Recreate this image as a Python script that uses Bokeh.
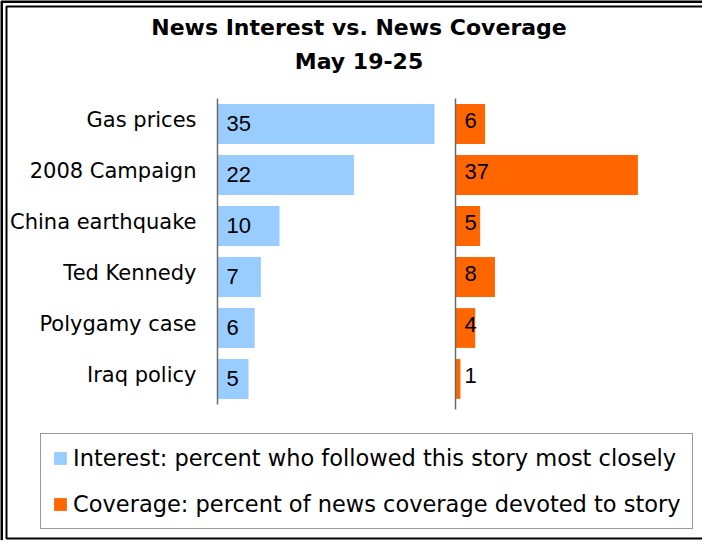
from bokeh.plotting import figure
from bokeh.models import Range1d, Legend, LegendItem, ColumnDataSource
from bokeh.core.properties import value
from bokeh.embed import file_html
from bokeh.resources import INLINE

# ---------------- data ----------------
categories = ["Gas prices", "2008 Campaign", "China earthquake",
              "Ted Kennedy", "Polygamy case", "Iraq policy"]
interest = [35, 22, 10, 7, 6, 5]
coverage = [6, 37, 5, 8, 4, 1]
title_lines = ["News Interest vs. News Coverage", "May 19-25"]
series_labels = ["Interest: percent who followed this story most closely",
                 "Coverage: percent of news coverage devoted to story"]
series_colors = ["#99CCFF", "#FF6600"]

# ---------------- layout constants (pixels) ----------------
W, H = 702, 540
AX_INT, PX_INT = 217, 6.2     # left panel axis position / px per unit
AX_COV, PX_COV = 455, 4.93    # right panel axis position / px per unit
TOP, BAND = 98, 51            # top of category area / band height
FONT = "DejaVu Sans"

n = len(categories)
src = ColumnDataSource(dict(
    cat=categories,
    idx=list(range(n)),
    interest=interest,
    coverage=coverage,
    int_lbl=[str(v) for v in interest],
    cov_lbl=[str(v) for v in coverage],
))

p = figure(
    width=W, height=H, output_backend="svg", toolbar_location=None,
    x_range=Range1d(-AX_INT / PX_INT, (W - AX_INT) / PX_INT),
    y_range=Range1d((H - TOP) / BAND - 0.5, -TOP / BAND - 0.5),
    x_axis_location=None, y_axis_location=None, min_border=0, title=None,
)
p.extra_x_ranges = {
    "cov": Range1d(-AX_COV / PX_COV, (W - AX_COV) / PX_COV),
    "px": Range1d(0, W),
}
p.extra_y_ranges = {"py": Range1d(H, 0)}
p.xgrid.visible = False
p.ygrid.visible = False
p.outline_line_color = None
p.background_fill_color = "white"
p.border_fill_color = "white"

# double frame around the chart
p.quad(left=[1], right=[W + 20], top=[1], bottom=[H + 20],
       x_range_name="px", y_range_name="py",
       fill_color=None, line_color="black", line_width=3)
p.quad(left=[6], right=[W + 20], top=[6], bottom=[538],
       x_range_name="px", y_range_name="py",
       fill_color=None, line_color="black", line_width=2)

# title
p.text(x=[358.5, 358.5], y=[27, 61], text=title_lines,
       x_range_name="px", y_range_name="py",
       text_font=value(FONT), text_font_style="bold", text_font_size="22px",
       text_align="center", text_baseline="alphabetic", text_color="black")

# bars
r_int = p.hbar(y="idx", left=0, right="interest", height=0.78, source=src,
               fill_color=series_colors[0], line_color=None)
r_cov = p.hbar(y="idx", left=0, right="coverage", height=0.78, source=src,
               x_range_name="cov", fill_color=series_colors[1], line_color=None)

# axis lines
p.segment(x0=0, x1=0, y0=-0.5, y1=n - 0.5, line_color="#6b6b6b", line_width=1.5)
p.segment(x0=0, x1=0, y0=-0.5, y1=n - 0.4, line_color="#6b6b6b", line_width=1.5,
          x_range_name="cov")

# category labels
p.text(x=196, y="idx", text="cat", source=src, x_range_name="px",
       text_font=value(FONT), text_font_size="21px", text_align="right",
       text_baseline="alphabetic", y_offset=-4, text_color="black")

# value labels
p.text(x=0, y="idx", text="int_lbl", source=src, x_offset=9, y_offset=-1,
       text_font=value("Liberation Sans"), text_font_size="22px",
       text_align="left", text_baseline="alphabetic", text_color="black")
p.text(x=0, y="idx", text="cov_lbl", source=src, x_range_name="cov",
       x_offset=9, y_offset=-4,
       text_font=value("Liberation Sans"), text_font_size="22px",
       text_align="left", text_baseline="alphabetic", text_color="black")

legend = Legend(
    items=[LegendItem(label=value(series_labels[0]), renderers=[r_int]),
           LegendItem(label=value(series_labels[1]), renderers=[r_cov])],
    location=(40, 11), orientation="vertical",
    padding=11, spacing=20, margin=0,
    glyph_width=16, glyph_height=16, label_standoff=5, label_width=600,
    label_text_font=FONT, label_text_font_size="22.5px", label_text_color="black",
    border_line_color="#333333", border_line_width=1,
    background_fill_color="white", background_fill_alpha=1.0,
)
p.add_layout(legend)

open("out.html", "w").write(file_html(p, INLINE))
